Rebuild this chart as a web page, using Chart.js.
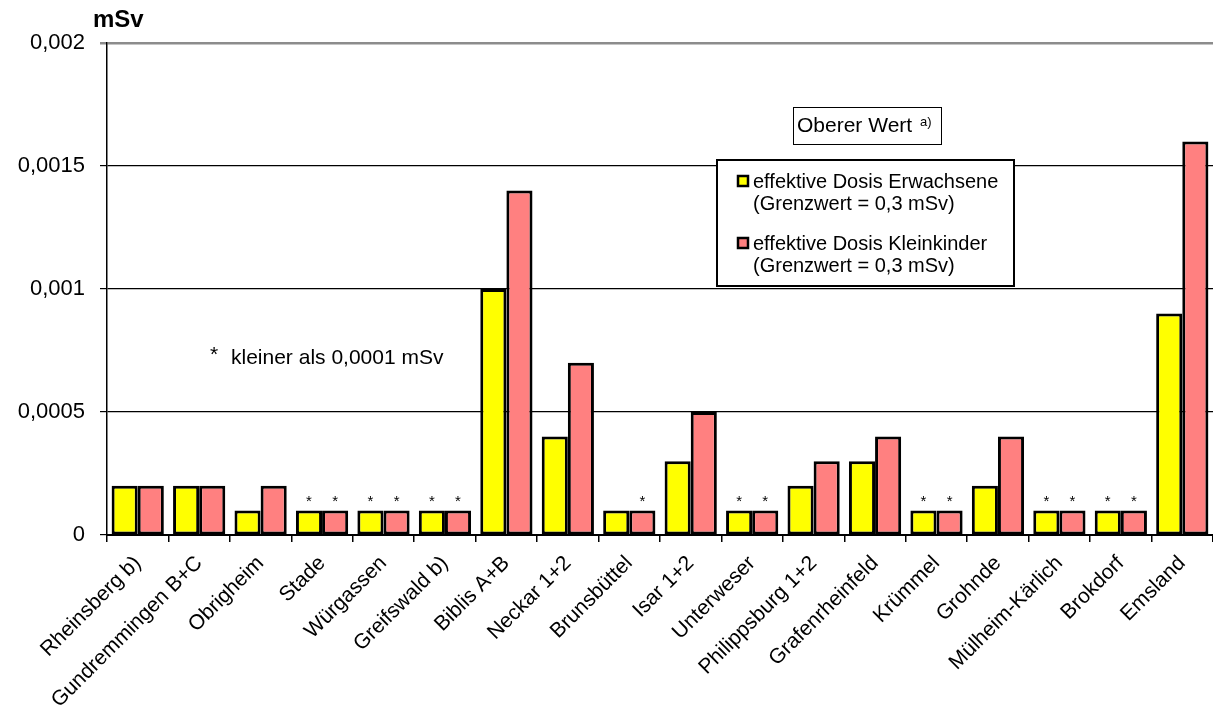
<!DOCTYPE html>
<html>
<head>
<meta charset="utf-8">
<title>Effektive Dosis</title>
<script src="https://cdn.jsdelivr.net/npm/chart.js@4.4.1/dist/chart.umd.min.js"></script>
<style>
  html, body { margin: 0; padding: 0; background: #fff; }
  #wrap { width: 1213px; height: 706px; position: relative; }
</style>
</head>
<body>
<div id="wrap"><canvas id="doseChart" width="1213" height="706"></canvas></div>
<script>
const categories = [
	"Rheinsberg b)", "Gundremmingen B+C", "Obrigheim", "Stade", "Würgassen",
	"Greifswald b)", "Biblis A+B", "Neckar 1+2", "Brunsbüttel", "Isar 1+2",
	"Unterweser", "Philippsburg 1+2", "Grafenrheinfeld", "Krümmel", "Grohnde",
	"Mülheim-Kärlich", "Brokdorf", "Emsland"
];

// effective dose in mSv
const adultDose = [0.0002, 0.0002, 0.0001, 0.0001, 0.0001, 0.0001, 0.001, 0.0004, 0.0001, 0.0003,
	0.0001, 0.0002, 0.0003, 0.0001, 0.0002, 0.0001, 0.0001, 0.0009];
const childDose = [0.0002, 0.0002, 0.0002, 0.0001, 0.0001, 0.0001, 0.0014, 0.0007, 0.0001, 0.0005,
	0.0001, 0.0003, 0.0004, 0.0001, 0.0004, 0.0001, 0.0001, 0.0016];

// "*" = below 0,0001 mSv
const adultBelow = [false, false, false, true, true, true, false, false, false, false,
	true, false, false, true, false, true, true, false];
const childBelow = [false, false, false, true, true, true, false, false, true, false,
	true, false, false, true, false, true, true, false];

const seriesLabels = ["effektive Dosis Erwachsene", "effektive Dosis Kleinkinder"];
const seriesNote = "(Grenzwert = 0,3 mSv)";
const seriesColors = ["#FFFF00", "#FF8080"];

const yTickValues = [0, 0.0005, 0.001, 0.0015, 0.002];
const yTickLabels = ["0", "0,0005", "0,001", "0,0015", "0,002"];

const FONT = "'Liberation Sans', Arial, sans-serif";
Chart.defaults.font.family = FONT;
Chart.defaults.color = "#000";

// extra texts: unit, "Oberer Wert" box, legend, asterisks and footnote
const extrasPlugin = {
	id: "extras",
	afterDatasetsDraw(chart) {
		const ctx = chart.ctx;
		ctx.save();

		// asterisks over bars below the detection limit
		ctx.font = "15px " + FONT;
		ctx.textAlign = "center";
		ctx.textBaseline = "bottom";
		ctx.fillStyle = "#000";
		[adultBelow, childBelow].forEach((flags, di) => {
			const meta = chart.getDatasetMeta(di);
			flags.forEach((f, i) => {
				if (!f) return;
				const bar = meta.data[i];
				ctx.fillText("*", bar.x, bar.y - 1);
			});
		});

		// unit label
		ctx.font = "bold 24px " + FONT;
		ctx.textAlign = "left";
		ctx.textBaseline = "middle";
		ctx.fillText("mSv", 93, 20);

		// "Oberer Wert a)" box
		ctx.fillStyle = "#fff";
		ctx.fillRect(793, 107, 148, 37);
		ctx.strokeStyle = "#000";
		ctx.lineWidth = 1;
		ctx.strokeRect(793.5, 107.5, 148, 37);
		ctx.fillStyle = "#000";
		ctx.font = "21px " + FONT;
		ctx.fillText("Oberer Wert", 797, 126);
		ctx.font = "13px " + FONT;
		ctx.fillText("a)", 920, 122);

		// legend
		ctx.fillStyle = "#fff";
		ctx.fillRect(717, 160, 297, 126);
		ctx.lineWidth = 2;
		ctx.strokeRect(717, 160, 297, 126);
		const rows = [181, 243];
		seriesLabels.forEach((label, i) => {
			const y = rows[i];
			ctx.fillStyle = seriesColors[i];
			ctx.fillRect(737, y - 6, 12, 12);
			ctx.lineWidth = 2.5;
			ctx.strokeStyle = "#000";
			ctx.strokeRect(738, y - 5, 10, 10);
			ctx.fillStyle = "#000";
			ctx.font = "20px " + FONT;
			ctx.textBaseline = "middle";
			ctx.fillText(label, 753, y + 1);
			ctx.fillText(seriesNote, 753, y + 23);
		});

		// footnote
		ctx.font = "21px " + FONT;
		ctx.fillText("*", 210, 355);
		ctx.fillText("kleiner als 0,0001 mSv", 231, 358);

		ctx.restore();
	}
};

new Chart(document.getElementById("doseChart"), {
	type: "bar",
	data: {
		labels: categories,
		datasets: [
			{
				label: seriesLabels[0],
				data: adultDose,
				backgroundColor: seriesColors[0],
				borderColor: "#000",
				borderWidth: 3,
				borderSkipped: false,
				barPercentage: 1,
				categoryPercentage: 0.85,
			},
			{
				label: seriesLabels[1],
				data: childDose,
				backgroundColor: seriesColors[1],
				borderColor: "#000",
				borderWidth: 3,
				borderSkipped: false,
				barPercentage: 1,
				categoryPercentage: 0.85,
			},
		],
	},
	options: {
		responsive: false,
		animation: false,
		layout: { padding: { top: 43, left: 0, right: 0, bottom: 0 } },
		plugins: {
			legend: { display: false },
			tooltip: { enabled: false },
		},
		scales: {
			x: {
				offset: true,
				grid: {
					display: true,
					drawOnChartArea: false,
					offset: true,
					tickLength: 7,
					color: "#000",
					lineWidth: 1.5,
				},
				border: { display: true, color: "#000", width: 2 },
				ticks: {
					font: { size: 21 },
					maxRotation: 45,
					minRotation: 45,
					padding: 9,
					autoSkip: false,
				},
				afterFit(scale) {
					scale.height = 171;
				},
			},
			y: {
				min: 0,
				max: 0.002,
				afterBuildTicks(scale) {
					scale.ticks = yTickValues.map((v) => ({ value: v }));
				},
				grid: {
					tickLength: 7,
					color: (c) => (c.tick && c.tick.value === 0.002 ? "#8c8c8c" : "#000"),
					lineWidth: (c) => (c.tick && c.tick.value === 0.002 ? 2.5 : 1.2),
				},
				border: { display: true, color: "#000", width: 1.5 },
				ticks: {
					font: { size: 22 },
					padding: 15,
					callback: (value, index) => yTickLabels[index],
				},
				afterFit(scale) {
					scale.width = 107;
				},
			},
		},
	},
	plugins: [extrasPlugin],
});
</script>
</body>
</html>
